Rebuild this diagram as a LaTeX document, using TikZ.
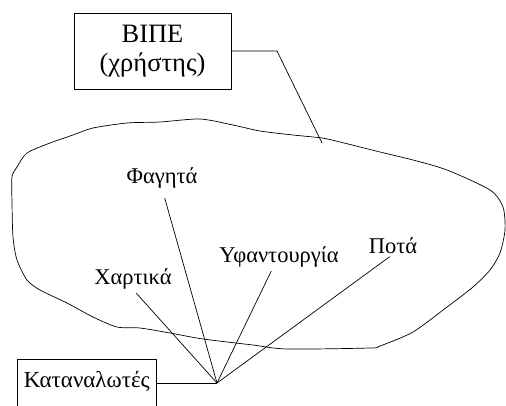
\documentclass[tikz,border=0pt]{standalone}
\usepackage{fontspec}
\setmainfont{Liberation Serif}
\usetikzlibrary{calc}
\tikzset{
  boxnode/.style={draw, line width=0.7pt, inner sep=0pt},
  labelnode/.style={inner sep=0pt, font=\fontsize{22.5}{26}\selectfont},
  wire/.style={draw, line width=0.7pt},
}
\begin{document}
\begin{tikzpicture}[x=1pt, y=-1pt]
  \useasboundingbox (0,0) rectangle (506,405);
  \clip (0,0) rectangle (506,405);

  % the region outline
  \draw[wire] plot[smooth cycle, tension=0.45] coordinates {
    (73,135) (93,128) (127,123) (160,122) (200,119) (233,125) (260,131)
    (293,135) (322,138) (340,142) (380,152) (413,160) (447,170) (490,190)
    (503,207) (505,230) (500,253) (490,270) (473,287) (447,307) (413,332)
    (380,346) (370,348) (287,349) (253,345) (203,339) (170,333) (140,328)
    (117,327) (93,317) (67,303) (40,290) (27,280) (17,260) (13,237)
    (12,203) (12,177) (17,167) (27,153) (50,143)
  };

  % user box and its pointer
  \node[boxnode, minimum width=157pt, minimum height=76pt, align=center,
        font=\fontsize{26.5}{29}\selectfont] (bipe) at (152.5,51) {ΒΙΠΕ\\(χρήστης)};
  \coordinate (bend) at (277,51);
  \coordinate (tip) at (322,143);
  \draw[wire] (bipe.east) -- (bend) -- (tip);

  % product categories
  \node[labelnode] (fag) at (162,178) {Φαγητά};
  \node[labelnode] (yfa) at (279,257) {Υφαντουργία};
  \node[labelnode] (xar) at (133,279) {Χαρτικά};
  \node[labelnode] (pot) at (393,246) {Ποτά};

  % consumers box
  \node[boxnode, anchor=north west, minimum width=139pt, inner xsep=4pt,
        inner ysep=11pt, text height=17pt, text depth=30pt,
        font=\fontsize{23}{26}\selectfont] (kat) at (17,359) {Καταναλωτές};

  \coordinate (conv) at (217,383);
  \draw[wire] (kat.east |- conv) -- (conv);
  \draw[wire, shorten <=10pt] (fag.south) -- (conv);
  \draw[wire, shorten <=4pt] ($(yfa.south)+(-6,0)$) -- (conv);
  \draw[wire, shorten <=5pt] (xar.south) -- (conv);
  \draw[wire, shorten <=4pt] (pot.south) -- (conv);
\end{tikzpicture}
\end{document}
